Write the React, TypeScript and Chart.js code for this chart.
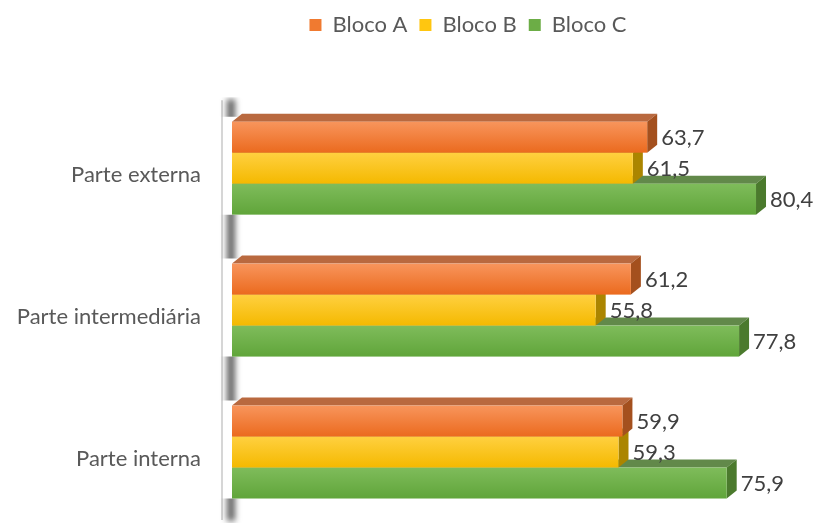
import React, { useEffect, useRef } from 'react';
import { Chart, registerables } from 'chart.js';

Chart.register(...registerables);

const categories = ['Parte externa', 'Parte intermediária', 'Parte interna'];
const seriesNames = ['Bloco A', 'Bloco B', 'Bloco C'];
const blocoA = [63.7, 61.2, 59.9];
const blocoB = [61.5, 55.8, 59.3];
const blocoC = [80.4, 77.8, 75.9];
const seriesValues = [blocoA, blocoB, blocoC];

const FONT = 'Lato, "Open Sans", sans-serif';
const LEGEND_CENTER_X = 468;

const palettes = [
  { legend: '#F07A30', light: '#F8955C', dark: '#EB6A1E', top: '#B9693F', side: '#A4501E' },
  { legend: '#FFC610', light: '#FFD040', dark: '#F4B900', top: '#B89000', side: '#AB8500' },
  { legend: '#6CAD46', light: '#7FBC5B', dark: '#60A53A', top: '#62894A', side: '#4B7A2D' },
];

const DX = 10;
const DY = 8;

const bar3d = {
  id: 'bar3d',
  afterLayout(chart: any) {
    const lg = chart.legend;
    if (lg) {
      const s = LEGEND_CENTER_X - (lg.left + lg.right) / 2;
      lg.left += s;
      lg.right += s;
    }
  },
  beforeDatasetDraw() {
    return false;
  },
  beforeDatasetsDraw(chart: any) {
    const { ctx, chartArea } = chart;
    ctx.save();
    ctx.strokeStyle = '#D6D6D6';
    ctx.lineWidth = 2;
    ctx.beginPath();
    ctx.moveTo(chartArea.left - 10, chartArea.top + 3);
    ctx.lineTo(chartArea.left - 10, chartArea.bottom - 3);
    ctx.stroke();
    ctx.restore();

    // wall shadow, visible only in the gaps between bar groups
    const first = chart.getDatasetMeta(0).data;
    const last = chart.getDatasetMeta(chart.data.datasets.length - 1).data;
    ctx.save();
    ctx.beginPath();
    ctx.rect(chartArea.left - 20, chartArea.top, 40, chartArea.bottom - chartArea.top);
    first.forEach((el: any, i: number) => {
      const a = el.getProps(['y', 'height'], true);
      const b = last[i].getProps(['y', 'height'], true);
      const t = a.y - a.height / 2 - DY + 3;
      const btm = b.y + b.height / 2;
      ctx.rect(chartArea.left - 20, t, 40, btm - t);
    });
    ctx.clip('evenodd');
    ctx.filter = 'blur(3px)';
    ctx.fillStyle = 'rgba(55,55,55,0.8)';
    ctx.fillRect(chartArea.left - 5, chartArea.top + 2, 8, chartArea.bottom - chartArea.top - 4);
    ctx.restore();
  },
  afterDatasetsDraw(chart: any) {
    const ctx = chart.ctx;
    const n = chart.data.datasets.length;
    const labels: any[] = [];
    ctx.save();
    for (let d = n - 1; d >= 0; d--) {
      const meta = chart.getDatasetMeta(d);
      const pal = palettes[d];
      meta.data.forEach((el: any, i: number) => {
        const { x, y, base, height } = el.getProps(['x', 'y', 'base', 'height'], true);
        const left = base;
        const right = x;
        const top = y - height / 2;
        const bottom = y + height / 2;
        ctx.fillStyle = pal.top;
        ctx.beginPath();
        ctx.moveTo(left, top);
        ctx.lineTo(left + DX, top - DY);
        ctx.lineTo(right + DX, top - DY);
        ctx.lineTo(right, top);
        ctx.closePath();
        ctx.fill();
        ctx.fillStyle = pal.side;
        ctx.beginPath();
        ctx.moveTo(right, top);
        ctx.lineTo(right + DX, top - DY);
        ctx.lineTo(right + DX, bottom - DY);
        ctx.lineTo(right, bottom);
        ctx.closePath();
        ctx.fill();
        const g = ctx.createLinearGradient(0, top, 0, bottom);
        g.addColorStop(0, pal.light);
        g.addColorStop(1, pal.dark);
        ctx.fillStyle = g;
        ctx.fillRect(left, top, right - left, bottom - top);
        const v = chart.data.datasets[d].data[i] as number;
        labels.push({ x: right + DX + 4, y: y + 1, text: v.toFixed(1).replace('.', ',') });
      });
    }
    ctx.fillStyle = '#404040';
    ctx.font = `22px ${FONT}`;
    ctx.textAlign = 'left';
    ctx.textBaseline = 'middle';
    labels.forEach((l) => ctx.fillText(l.text, l.x, l.y));
    ctx.restore();
  },
};

export default function App() {
  const ref = useRef<HTMLCanvasElement | null>(null);
  useEffect(() => {
    if (!ref.current) return;
    const chart = new Chart(ref.current, {
      type: 'bar',
      data: {
        labels: categories,
        datasets: seriesNames.map((name, i) => ({
          label: name,
          data: seriesValues[i],
          backgroundColor: palettes[i].legend,
          borderWidth: 0,
          barPercentage: 1,
          categoryPercentage: 0.655,
        })),
      },
      options: {
        indexAxis: 'y',
        animation: false,
        responsive: false,
        maintainAspectRatio: false,
        layout: { autoPadding: false, padding: { top: 2, right: 28, left: 0, bottom: 0 } },
        scales: {
          x: { display: false, min: 0, max: 85 },
          y: {
            grid: { display: false, drawTicks: false },
            border: { display: false },
            ticks: {
              padding: 31,
              labelOffset: 7,
              color: '#595959',
              font: { family: FONT, size: 22 },
            },
            afterFit: (s: any) => {
              s.width = 232;
              s.paddingTop = 0;
              s.paddingBottom = 0;
            },
          },
        },
        plugins: {
          legend: {
            position: 'top',
            labels: {
              boxWidth: 12,
              boxHeight: 12,
              padding: 12,
              color: '#595959',
              font: { family: FONT, size: 22 },
            },
          },
          title: {
            display: true,
            text: ' ',
            weight: 500,
            font: { size: 1 },
            padding: { top: 0, bottom: 50 },
          } as any,
          tooltip: { enabled: false },
        },
      },
      plugins: [bar3d as any],
    });
    return () => chart.destroy();
  }, []);
  return (
    <div style={{ position: 'fixed', left: 0, top: 0, width: 814, height: 523 }}>
      <canvas ref={ref} width={814} height={523} />
    </div>
  );
}
